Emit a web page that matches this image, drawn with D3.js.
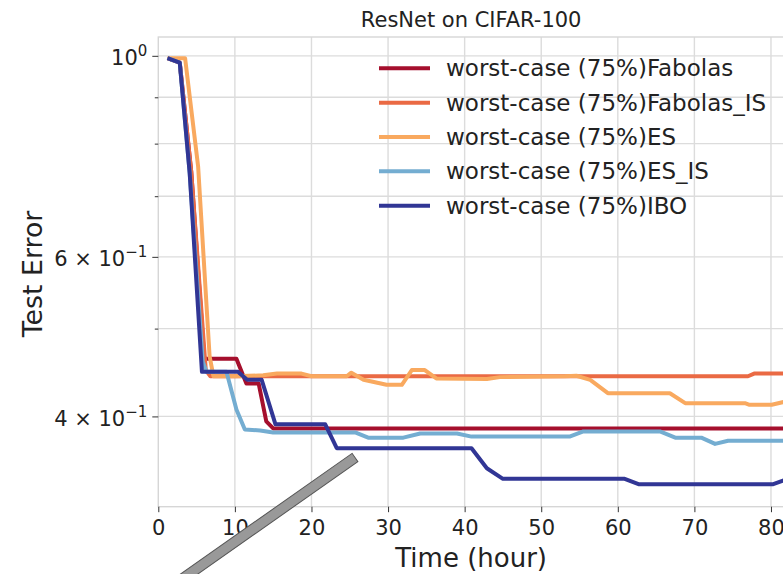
<!DOCTYPE html>
<meta charset="utf-8">
<style>
body { margin: 0; background: #fff; }
svg { font-family: "DejaVu Sans", sans-serif; }
.grid line { stroke: #dcdcdc; stroke-width: 1.4; }
.axis path { display: none; }
.axis line { stroke: #333; }
.axis text { font-family: "DejaVu Sans", sans-serif; font-size: 21px; fill: #222; }
.frame { fill: none; stroke: #d6d6d6; stroke-width: 1.4; }
</style>
<body>
<script src="https://cdnjs.cloudflare.com/ajax/libs/d3/7.8.5/d3.min.js"></script>
<script>

// series (time in hours, test error)
var tFabolas = [1.2, 2.8, 4.3, 6.0, 10.2, 11.5, 13.1, 14.1, 15.0, 81.7];
var eFabolas = [0.994, 0.983, 0.745, 0.463, 0.463, 0.435, 0.435, 0.395, 0.388, 0.388];

var tFabolasIS = [1.2, 2.8, 4.3, 6.2, 6.8, 77.0, 77.8, 81.7];
var eFabolasIS = [0.994, 0.983, 0.745, 0.45, 0.443, 0.443, 0.446, 0.446];

var tES = [1.2, 3.5, 5.2, 6.7, 7.2, 10, 13.7, 15.5, 18.7, 20, 24.6, 25.2, 26.8, 29.8, 31.8, 33.1, 34.8, 36.3,
           42.9, 44.6, 53.1, 54.6, 56.4, 58.7, 66.8, 68.8, 76.6, 77.2, 80.1, 81.7];
var eES = [0.994, 0.994, 0.755, 0.466, 0.443, 0.443, 0.444, 0.446, 0.446, 0.443, 0.443, 0.447, 0.439, 0.4335, 0.4335, 0.45, 0.45, 0.4405,
           0.44, 0.442, 0.443, 0.4435, 0.439, 0.4243, 0.4243, 0.4137, 0.4137, 0.412, 0.412, 0.415];

var tESIS = [1.2, 2.8, 4.1, 5.8, 6.3, 8.9, 10.2, 11.3, 13.3, 15.0, 25.7, 27.4, 32.0, 34.2, 39.0, 40.9, 53.7, 55.5,
             65.5, 67.5, 70.9, 72.7, 74.4, 81.7];
var eESIS = [0.994, 0.983, 0.742, 0.46, 0.448, 0.448, 0.407, 0.387, 0.386, 0.384, 0.384, 0.379, 0.379, 0.383, 0.383, 0.380, 0.380, 0.385,
             0.385, 0.379, 0.379, 0.373, 0.376, 0.376];

var tIBO = [1.2, 2.8, 4.1, 5.7, 10.4, 11.6, 13.5, 15.3, 21.8, 23.3, 40.9, 42.9, 45.0, 60.9, 62.7, 80.3, 81.7];
var eIBO = [0.994, 0.983, 0.742, 0.448, 0.448, 0.439, 0.439, 0.392, 0.392, 0.369, 0.369, 0.3506, 0.3413, 0.3413, 0.3367, 0.3367, 0.340];

var labels = ["worst-case (75%)Fabolas", "worst-case (75%)Fabolas_IS", "worst-case (75%)ES",
              "worst-case (75%)ES_IS", "worst-case (75%)IBO"];
var colors = ["#a50f2d", "#ea6a44", "#f9a95f", "#74add1", "#313695"];

var xTicks = [0, 10, 20, 30, 40, 50, 60, 70, 80];
var yMajor = [1.0, 0.6, 0.4];
var yMajorLabels = [["10", "0"], ["6 \u00d7 10", "\u22121"], ["4 \u00d7 10", "\u22121"]];
var yMinor = [0.9, 0.8, 0.7, 0.5];

var series = [
  {t: tFabolas, e: eFabolas},
  {t: tFabolasIS, e: eFabolasIS},
  {t: tES, e: eES},
  {t: tESIS, e: eESIS},
  {t: tIBO, e: eIBO}
];

var W = 783, H = 574;
var pL = 158.3, pR = 784, pT = 37, pB = 506.7;

var x = d3.scaleLinear().domain([0, 81.7]).range([pL, pR]);
var y = d3.scaleLog().domain([0.318, 1.049]).range([pB, pT]);

var svg = d3.select("body").append("svg")
    .attr("width", W)
    .attr("height", H);

// grid
var grid = svg.append("g").attr("class", "grid");
grid.selectAll(".gx").data(xTicks.slice(1)).enter().append("line")
    .attr("x1", function(d) { return x(d); }).attr("x2", function(d) { return x(d); })
    .attr("y1", pT).attr("y2", pB);
grid.selectAll(".gy").data(yMajor.concat(yMinor)).enter().append("line")
    .attr("x1", pL).attr("x2", pR)
    .attr("y1", function(d) { return y(d); }).attr("y2", function(d) { return y(d); });

svg.append("rect").attr("class", "frame")
    .attr("x", pL).attr("y", pT)
    .attr("width", pR - pL).attr("height", pB - pT);

// axes
svg.append("g")
    .attr("class", "axis")
    .attr("transform", "translate(0," + pB + ")")
    .call(d3.axisBottom(x).tickValues(xTicks).tickSize(5.5).tickPadding(8).tickFormat(d3.format("d")))
    .attr("font-size", null).attr("font-family", null);

svg.append("g")
    .attr("class", "axis")
    .attr("transform", "translate(" + pL + ",0)")
    .call(d3.axisLeft(y).tickValues(yMinor).tickSize(3.5).tickFormat(""));

var yAx = svg.append("g")
    .attr("class", "axis")
    .attr("transform", "translate(" + pL + ",0)")
    .call(d3.axisLeft(y).tickValues(yMajor).tickSize(6).tickPadding(8).tickFormat(""))
    .attr("font-size", null).attr("font-family", null);

yAx.selectAll(".tick").each(function(d, i) {
  var t = d3.select(this).select("text")
      .attr("dy", "0.42em")
      .attr("x", -11)
      .style("text-anchor", "end");
  t.append("tspan").text(yMajorLabels[i][0]);
  t.append("tspan").text(yMajorLabels[i][1])
      .attr("dy", "-0.6em")
      .style("font-size", "15px");
});

// lines
svg.append("clipPath").attr("id", "clip")
  .append("rect").attr("x", pL).attr("y", pT)
    .attr("width", pR - pL).attr("height", pB - pT);

var line = d3.line()
    .x(function(d) { return x(d[0]); })
    .y(function(d) { return y(d[1]); });

svg.append("g").attr("clip-path", "url(#clip)")
  .selectAll("path").data(series).enter().append("path")
    .attr("d", function(s) { return line(d3.zip(s.t, s.e)); })
    .attr("fill", "none")
    .attr("stroke", function(s, i) { return colors[i]; })
    .attr("stroke-width", 4)
    .attr("stroke-linejoin", "round");

// legend
var leg = svg.append("g").selectAll("g").data(labels).enter().append("g")
    .attr("transform", function(d, i) { return "translate(379," + (68.3 + i * 34.35) + ")"; });
leg.append("line")
    .attr("x1", 0).attr("x2", 51)
    .attr("stroke", function(d, i) { return colors[i]; })
    .attr("stroke-width", 4);
leg.append("text")
    .attr("x", 67)
    .attr("y", 8)
    .style("font-size", "23px")
    .style("fill", "#222")
    .text(function(d) { return d; });

// titles
svg.append("text")
    .attr("x", (pL + pR) / 2).attr("y", 26.5)
    .attr("text-anchor", "middle")
    .style("font-size", "21px").style("fill", "#222")
    .text("ResNet on CIFAR-100");

svg.append("text")
    .attr("x", (pL + pR) / 2).attr("y", 567)
    .attr("text-anchor", "middle")
    .style("font-size", "26px").style("fill", "#222")
    .text("Time (hour)");

svg.append("text")
    .attr("transform", "translate(41.5,274) rotate(-90)")
    .attr("text-anchor", "middle")
    .style("font-size", "26.8px").style("fill", "#222")
    .text("Test Error");

// grey pointer bar laid over the plot
svg.append("rect")
    .attr("transform", "translate(355,457.5) rotate(144.9)")
    .attr("x", 0).attr("y", -5)
    .attr("width", 280).attr("height", 10)
    .attr("fill", "#999")
    .attr("stroke", "#555")
    .attr("stroke-width", 1);

</script>
